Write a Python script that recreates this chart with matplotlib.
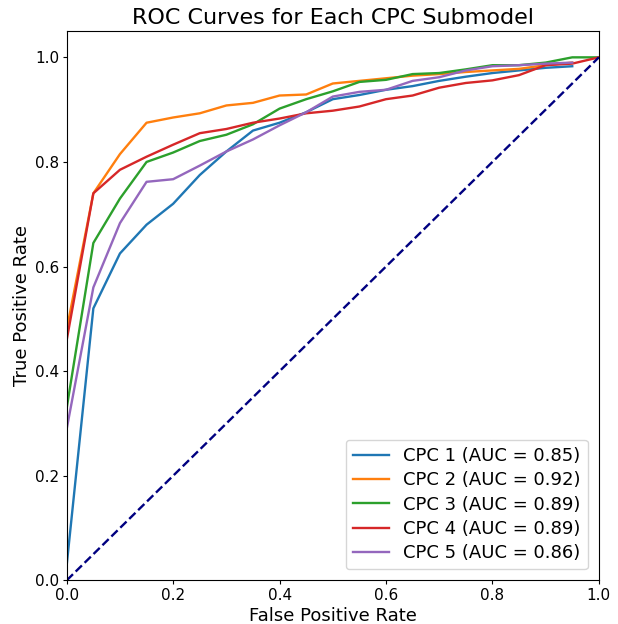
import numpy as np
import matplotlib
matplotlib.use("Agg")
import matplotlib.pyplot as plt

# false positive rate grid shared by the submodels
fpr = [0.0, 0.05, 0.1, 0.15, 0.2, 0.25, 0.3, 0.35, 0.4, 0.45, 0.5,
       0.55, 0.6, 0.65, 0.7, 0.75, 0.8, 0.85, 0.9, 0.95, 1.0]

tpr_cpc1 = [0.03, 0.52, 0.625, 0.68, 0.72, 0.775, 0.82, 0.86, 0.875, 0.895, 0.92,
            0.928, 0.938, 0.945, 0.955, 0.963, 0.97, 0.975, 0.98, 0.983]
tpr_cpc2 = [0.48, 0.74, 0.815, 0.875, 0.885, 0.893, 0.908, 0.913, 0.927, 0.929, 0.95,
            0.955, 0.96, 0.965, 0.968, 0.972, 0.975, 0.978, 0.985, 0.99]
tpr_cpc3 = [0.33, 0.645, 0.73, 0.80, 0.818, 0.84, 0.852, 0.872, 0.902, 0.92, 0.935,
            0.953, 0.957, 0.968, 0.97, 0.977, 0.985, 0.985, 0.99, 1.0, 1.0]
tpr_cpc4 = [0.46, 0.74, 0.785, 0.81, 0.833, 0.855, 0.863, 0.875, 0.883, 0.893, 0.898,
            0.906, 0.92, 0.927, 0.942, 0.951, 0.956, 0.966, 0.985, 0.988, 1.0]
tpr_cpc5 = [0.29, 0.56, 0.683, 0.762, 0.767, 0.793, 0.82, 0.843, 0.87, 0.895, 0.925,
            0.934, 0.938, 0.955, 0.962, 0.975, 0.983, 0.985, 0.988, 0.99]

names = ["CPC 1", "CPC 2", "CPC 3", "CPC 4", "CPC 5"]
aucs = [0.85, 0.92, 0.89, 0.89, 0.86]
curves = [tpr_cpc1, tpr_cpc2, tpr_cpc3, tpr_cpc4, tpr_cpc5]

fig, ax = plt.subplots(figsize=(6.18, 6.24), dpi=100)

for name, auc, tpr in zip(names, aucs, curves):
    ax.plot(fpr[:len(tpr)], tpr, lw=1.7, label=f"{name} (AUC = {auc:.2f})")

ax.plot([0, 1], [0, 1], color="navy", lw=1.7, linestyle="--")
ax.set_xlim(0.0, 1.0)
ax.set_ylim(0.0, 1.05)
ax.set_xlabel("False Positive Rate", fontsize=13, labelpad=3)
ax.set_ylabel("True Positive Rate", fontsize=13, labelpad=3)
ax.set_title("ROC Curves for Each CPC Submodel", fontsize=16, pad=5)
ax.tick_params(labelsize=11, length=2.7, pad=2.7)
ax.legend(loc="lower right", fontsize=13, labelspacing=0.35, borderaxespad=0.6)

plt.subplots_adjust(left=0.108, right=0.969, bottom=0.07, top=0.95)
plt.savefig("out.png", dpi=100)
